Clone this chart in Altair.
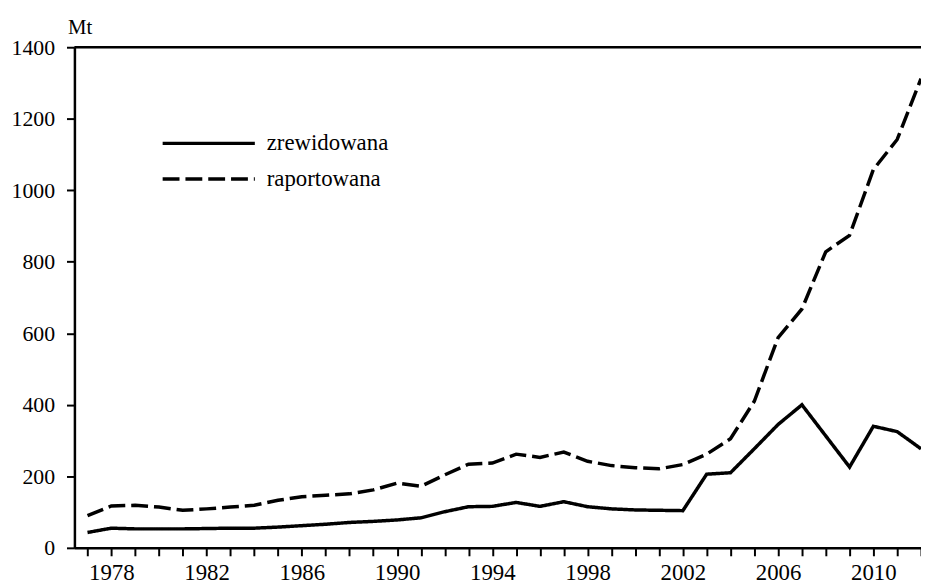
import altair as alt
import pandas as pd

years = list(range(1977, 2013))
zrewidowana = [43, 55, 53, 53, 53, 54, 55, 55, 58, 62, 66, 71, 74, 78, 84, 101, 115, 116,
               127, 116, 129, 115, 109, 106, 105, 104, 206, 210, 277, 345, 400, 313, 226,
               340, 325, 277]
raportowana = [90, 117, 119, 114, 105, 109, 114, 119, 133, 143, 147, 151, 162, 181, 172,
               204, 234, 237, 262, 253, 268, 242, 230, 224, 221, 233, 262, 305, 410, 588,
               668, 828, 874, 1058, 1142, 1312]
series_names = ["zrewidowana", "raportowana"]
y_ticks = [0, 200, 400, 600, 800, 1000, 1200, 1400]

rows = []
for name, vals in zip(series_names, [zrewidowana, raportowana]):
    for yr, v in zip(years, vals):
        rows.append({"rok": yr, "wartosc": v, "seria": name})
df = pd.DataFrame(rows)

FONT = "Liberation Serif"

xscale = alt.Scale(domain=[1976.45, 2012], nice=False, zero=False)
yscale = alt.Scale(domain=[0, 1400], nice=False)

lines = alt.Chart(df).mark_line(color="black", strokeWidth=3.5).encode(
    x=alt.X("rok:Q", scale=xscale,
            axis=alt.Axis(values=years, title=None, grid=False,
                          labelExpr="(datum.value - 1978) % 4 == 0 ? format(datum.value, 'd') : ''",
                          labelOverlap=False, labelFlush=False,
                          tickSize=8, tickWidth=2, tickColor="black",
                          domainColor="black", domainWidth=2.5,
                          labelFont=FONT, labelFontSize=23, labelColor="black",
                          labelPadding=6)),
    y=alt.Y("wartosc:Q", scale=yscale,
            axis=alt.Axis(values=y_ticks, grid=False, title="Mt", format="d",
                          titleAngle=0, titleAlign="left", titleBaseline="alphabetic",
                          titleX=-7, titleY=-14, titleFont=FONT, titleFontSize=21,
                          titleFontWeight="normal", titleColor="black",
                          tickSize=8, tickWidth=2, tickColor="black",
                          domainColor="black", domainWidth=2.5,
                          labelFont=FONT, labelFontSize=22, labelColor="black",
                          labelPadding=12)),
    strokeDash=alt.StrokeDash("seria:N",
                              scale=alt.Scale(domain=series_names, range=[[1, 0], [17, 6]]),
                              legend=alt.Legend(title=None, orient="none", legendX=87, legendY=87,
                                                symbolType="stroke", symbolSize=8649,
                                                symbolStrokeWidth=3.5, symbolStrokeColor="black",
                                                clipHeight=20, rowPadding=13, padding=0,
                                                labelFont=FONT, labelFontSize=23,
                                                labelColor="black", labelOffset=10)),
    order="rok:Q",
)

top = alt.Chart(pd.DataFrame({"top": [1400]})).mark_rule(color="black", strokeWidth=2.5).encode(
    y=alt.Y("top:Q", scale=yscale)
)

chart = alt.layer(top, lines).properties(
    width=854, height=505,
    autosize=alt.AutoSizeParams(type="none"),
    padding={"left": 67, "top": 37, "right": 0, "bottom": 45},
).configure_view(stroke=None).configure(background="white")

chart.save("out.html", embed_options={"renderer": "svg", "actions": False})
